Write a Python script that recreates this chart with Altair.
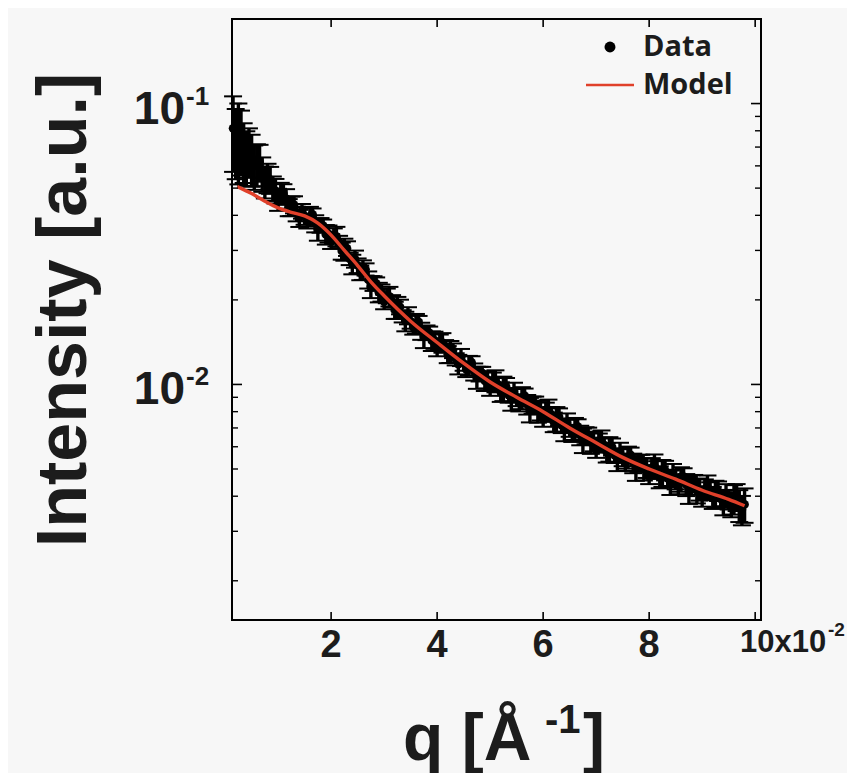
import altair as alt
import pandas as pd

# ---- data ----
q_data = [0.15, 0.20, 0.25, 0.30, 0.35, 0.40, 0.45, 0.50, 0.55, 0.60,
          0.65, 0.70, 0.75, 0.80, 0.85, 0.90, 0.95, 1.00, 1.05, 1.10,
          1.15, 1.20, 1.25, 1.30, 1.35, 1.40, 1.45, 1.50, 1.55, 1.60,
          1.65, 1.70, 1.75, 1.80, 1.85, 1.90, 1.95, 2.00, 2.05, 2.10,
          2.15, 2.20, 2.25, 2.30, 2.35, 2.40, 2.45, 2.50, 2.55, 2.60,
          2.65, 2.70, 2.75, 2.80, 2.85, 2.90, 2.95, 3.00, 3.05, 3.10,
          3.15, 3.20, 3.25, 3.30, 3.35, 3.40, 3.45, 3.50, 3.55, 3.60,
          3.65, 3.70, 3.75, 3.80, 3.85, 3.90, 3.95, 4.00, 4.05, 4.10,
          4.15, 4.20, 4.25, 4.30, 4.35, 4.40, 4.45, 4.50, 4.55, 4.60,
          4.65, 4.70, 4.75, 4.80, 4.85, 4.90, 4.95, 5.00, 5.05, 5.10,
          5.15, 5.20, 5.25, 5.30, 5.35, 5.40, 5.45, 5.50, 5.55, 5.60,
          5.65, 5.70, 5.75, 5.80, 5.85, 5.90, 5.95, 6.00, 6.05, 6.10,
          6.15, 6.20, 6.25, 6.30, 6.35, 6.40, 6.45, 6.50, 6.55, 6.60,
          6.65, 6.70, 6.75, 6.80, 6.85, 6.90, 6.95, 7.00, 7.05, 7.10,
          7.15, 7.20, 7.25, 7.30, 7.35, 7.40, 7.45, 7.50, 7.55, 7.60,
          7.65, 7.70, 7.75, 7.80, 7.85, 7.90, 7.95, 8.00, 8.05, 8.10,
          8.15, 8.20, 8.25, 8.30, 8.35, 8.40, 8.45, 8.50, 8.55, 8.60,
          8.65, 8.70, 8.75, 8.80, 8.85, 8.90, 8.95, 9.00, 9.05, 9.10,
          9.15, 9.20, 9.25, 9.30, 9.35, 9.40, 9.45, 9.50, 9.55, 9.60,
          9.65, 9.70, 9.75, 9.80]
i_data = [0.0816, 0.0747, 0.0758, 0.0749, 0.0686, 0.0653, 0.0680, 0.0640, 0.0601, 0.0612,
          0.0620, 0.0564, 0.0528, 0.0545, 0.0536, 0.0500, 0.0490, 0.0456, 0.0479, 0.0478,
          0.0459, 0.0427, 0.0432, 0.0437, 0.0405, 0.0391, 0.0414, 0.0398, 0.0382, 0.0397,
          0.0403, 0.0374, 0.0357, 0.0369, 0.0368, 0.0342, 0.0344, 0.0323, 0.0339, 0.0337,
          0.0322, 0.0299, 0.0303, 0.0305, 0.0280, 0.0268, 0.0280, 0.0265, 0.0250, 0.0256,
          0.0257, 0.0236, 0.0223, 0.0229, 0.0229, 0.0213, 0.0212, 0.0197, 0.0207, 0.0206,
          0.0198, 0.0184, 0.0188, 0.0189, 0.0175, 0.0168, 0.0176, 0.0168, 0.0160, 0.0165,
          0.0167, 0.0155, 0.0148, 0.0153, 0.0153, 0.0143, 0.0144, 0.0134, 0.0142, 0.0141,
          0.0137, 0.0128, 0.0131, 0.0132, 0.0123, 0.0118, 0.0125, 0.0119, 0.0113, 0.0117,
          0.0120, 0.0111, 0.0106, 0.0109, 0.0110, 0.0103, 0.0104, 0.00969, 0.0103, 0.0103,
          0.0100, 0.00942, 0.00969, 0.00985, 0.00916, 0.00886, 0.00939, 0.00900, 0.00862, 0.00897,
          0.00912, 0.00849, 0.00814, 0.00846, 0.00854, 0.00803, 0.00809, 0.00760, 0.00805, 0.00810,
          0.00784, 0.00735, 0.00755, 0.00768, 0.00714, 0.00690, 0.00730, 0.00700, 0.00671, 0.00697,
          0.00709, 0.00660, 0.00633, 0.00658, 0.00662, 0.00622, 0.00628, 0.00589, 0.00625, 0.00629,
          0.00610, 0.00573, 0.00590, 0.00600, 0.00559, 0.00540, 0.00574, 0.00550, 0.00529, 0.00551,
          0.00562, 0.00525, 0.00504, 0.00525, 0.00530, 0.00500, 0.00505, 0.00475, 0.00506, 0.00512,
          0.00498, 0.00469, 0.00485, 0.00495, 0.00463, 0.00449, 0.00478, 0.00460, 0.00442, 0.00461,
          0.00470, 0.00440, 0.00422, 0.00440, 0.00445, 0.00419, 0.00424, 0.00399, 0.00425, 0.00431,
          0.00419, 0.00396, 0.00409, 0.00418, 0.00391, 0.00380, 0.00405, 0.00390, 0.00374, 0.00391,
          0.00398, 0.00372, 0.00358, 0.00374]
# relative error of each point (half-length of the error bar / intensity)
rel_err = [0.30, 0.28, 0.32, 0.26,
           0.24, 0.22, 0.20, 0.21, 0.18, 0.17,
           0.15, 0.14, 0.13, 0.12, 0.11, 0.10, 0.10, 0.09,
           0.09, 0.08, 0.08, 0.07, 0.08, 0.07, 0.06, 0.07, 0.06, 0.07,
           0.06, 0.08, 0.05, 0.07, 0.09, 0.06, 0.05, 0.08, 0.07, 0.06,
           0.06, 0.08, 0.05, 0.07, 0.09, 0.06, 0.05, 0.08, 0.07, 0.06,
           0.06, 0.08, 0.05, 0.07, 0.09, 0.06, 0.05, 0.08, 0.07, 0.06,
           0.06, 0.08, 0.05, 0.07, 0.09, 0.06, 0.05, 0.08, 0.07, 0.06,
           0.06, 0.08, 0.05, 0.07, 0.09, 0.06, 0.05, 0.08, 0.07, 0.06,
           0.06, 0.08, 0.05, 0.07, 0.09, 0.06, 0.05, 0.08, 0.07, 0.06,
           0.06, 0.08, 0.05, 0.07, 0.09, 0.06, 0.05, 0.08, 0.07, 0.06,
           0.07, 0.09, 0.06, 0.08, 0.10, 0.07, 0.06, 0.09, 0.08, 0.07,
           0.07, 0.09, 0.06, 0.08, 0.10, 0.07, 0.06, 0.09, 0.08, 0.07,
           0.07, 0.09, 0.06, 0.08, 0.10, 0.07, 0.06, 0.09, 0.08, 0.07,
           0.07, 0.09, 0.06, 0.08, 0.10, 0.07, 0.06, 0.09, 0.08, 0.07,
           0.07, 0.09, 0.06, 0.08, 0.10, 0.07, 0.06, 0.09, 0.08, 0.07,
           0.07, 0.09, 0.06, 0.08, 0.10, 0.07, 0.06, 0.09, 0.08, 0.07,
           0.08, 0.10, 0.07, 0.09, 0.11, 0.08, 0.07, 0.10, 0.09, 0.08,
           0.08, 0.10, 0.07, 0.09, 0.11, 0.08, 0.07, 0.10, 0.09, 0.08,
           0.08, 0.10, 0.07, 0.09, 0.11, 0.08, 0.07, 0.10, 0.09, 0.08,
           0.10, 0.12, 0.11, 0.13, 0.12, 0.14]

q_model = [0.23, 0.5, 0.75, 1.0, 1.25, 1.5, 1.75, 2.0, 2.25, 2.5, 2.75, 3.0, 3.5,
           4.0, 4.5, 5.0, 5.5, 6.0, 6.5, 7.0, 7.5, 8.0, 8.5, 9.0, 9.5, 9.8]
i_model = [0.0506, 0.0478, 0.0449, 0.0425, 0.0410, 0.0398, 0.0375, 0.0340, 0.0300,
           0.0265, 0.0232, 0.0207, 0.0168, 0.0141, 0.0119, 0.0102, 0.0090, 0.0080,
           0.0070, 0.0062, 0.0055, 0.0050, 0.0046, 0.0042, 0.0039, 0.0037]

x_ticks = [2, 4, 6, 8, 10]
x_tick_labels = ["2", "4", "6", "8"]
y_major = [0.01, 0.1]
y_minor = [0.002, 0.003, 0.004, 0.005, 0.006, 0.007, 0.008, 0.009,
           0.02, 0.03, 0.04, 0.05, 0.06, 0.07, 0.08, 0.09, 0.2]

# ---- layout ----
W, H = 529, 601
FONT = "Liberation Sans"
INK = "#1c1c1c"
RED = "#e0402a"
BG = "#f7f7f7"

df = pd.DataFrame({"q": q_data, "I": i_data, "rel": rel_err})
df["lo"] = df["I"] * (1 - df["rel"])
df["hi"] = df["I"] * (1 + df["rel"])
model = pd.DataFrame({"q": q_model, "I": i_model})

xs = alt.Scale(domain=[0.13, 10.11], nice=False, zero=False)
ys = alt.Scale(type="log", domain=[0.00145, 0.2], nice=False)

X = alt.X("q:Q", scale=xs, axis=None)

bars = alt.Chart(df).mark_rule(color="black", strokeWidth=3.4).encode(
    x=X, y=alt.Y("lo:Q", scale=ys, axis=None), y2="hi:Q")
cap_lo = alt.Chart(df).mark_rule(color="black", strokeWidth=2.0, xOffset=-9, x2Offset=9).encode(
    x=X, x2="q:Q", y=alt.Y("lo:Q", scale=ys, axis=None))
cap_hi = alt.Chart(df).mark_rule(color="black", strokeWidth=2.0, xOffset=-9, x2Offset=9).encode(
    x=X, x2="q:Q", y=alt.Y("hi:Q", scale=ys, axis=None))
pts = alt.Chart(df).mark_circle(color="black", size=75, opacity=1).encode(
    x=X, y=alt.Y("I:Q", scale=ys, axis=None))
line = alt.Chart(model).mark_line(color=RED, strokeWidth=3.4, interpolate="monotone").encode(
    x=X, y=alt.Y("I:Q", scale=ys, axis=None))

# inward ticks on all four sides
ymaj = pd.DataFrame({"v": y_major})
ymin = pd.DataFrame({"v": y_minor})
xt = pd.DataFrame({"v": x_ticks})
YV = alt.Y("v:Q", scale=ys, axis=None)
XV = alt.X("v:Q", scale=xs, axis=None)
tick_layers = [
    alt.Chart(ymaj).mark_rule(color="black", strokeWidth=1.6).encode(y=YV, x=alt.value(0), x2=alt.value(10)),
    alt.Chart(ymaj).mark_rule(color="black", strokeWidth=1.6).encode(y=YV, x=alt.value(W - 10), x2=alt.value(W)),
    alt.Chart(ymin).mark_rule(color="black", strokeWidth=1.4).encode(y=YV, x=alt.value(0), x2=alt.value(6)),
    alt.Chart(ymin).mark_rule(color="black", strokeWidth=1.4).encode(y=YV, x=alt.value(W - 6), x2=alt.value(W)),
    alt.Chart(xt).mark_rule(color="black", strokeWidth=1.6).encode(x=XV, y=alt.value(H - 8), y2=alt.value(H)),
    alt.Chart(xt).mark_rule(color="black", strokeWidth=1.6).encode(x=XV, y=alt.value(0), y2=alt.value(8)),
]

# x tick labels through the x scale
xl = pd.DataFrame({"v": x_ticks[:4], "t": x_tick_labels})
x_labels = alt.Chart(xl).mark_text(font=FONT, fontWeight="bold", fontSize=38, color=INK,
                                   baseline="middle", align="center").encode(
    x=XV, y=alt.value(H + 26), text="t:N")

# y tick labels (10 with superscript exponent) through the y scale
yl = pd.DataFrame({"v": y_major, "base": ["10", "10"], "exp": ["-2", "-1"]})
y_base = alt.Chart(yl).mark_text(font=FONT, fontWeight="bold", fontSize=46, color=INK,
                                 baseline="middle", align="right", dy=6).encode(
    y=YV, x=alt.value(-47), text="base:N")
y_exp = alt.Chart(yl).mark_text(font=FONT, fontWeight="bold", fontSize=26, color=INK,
                                baseline="middle", align="left", dy=-7).encode(
    y=YV, x=alt.value(-46), text="exp:N")

def txt(s, x, y, size, align="left", baseline="alphabetic", angle=0, font=FONT):
    return alt.Chart(pd.DataFrame({"t": [s]})).mark_text(
        font=font, fontWeight="bold", fontSize=size, color=INK, align=align,
        baseline=baseline, angle=angle).encode(x=alt.value(x), y=alt.value(y), text="t:N")

# x-axis multiplier
mult = [txt("10x10", 508, 624, 31, baseline="middle"),
        txt("-2", 596, 611, 19, baseline="middle")]

# axis titles
y_title = txt("Intensity [a.u.]", -167, 291, 70, align="center", baseline="middle", angle=270)
x_title = [txt("q [Å", 171, 741, 66),
           txt("-1", 313, 714, 40),
           txt("]", 351, 741, 66)]

# legend
leg = [
    alt.Chart(pd.DataFrame({"a": [0]})).mark_circle(color="black", size=120, opacity=1).encode(
        x=alt.value(378), y=alt.value(28)),
    alt.Chart(pd.DataFrame({"a": [0]})).mark_rule(color=RED, strokeWidth=2.5).encode(
        x=alt.value(354), x2=alt.value(402), y=alt.value(66)),
    txt("Data", 411, 28, 29, baseline="middle", font="Open Sans"),
    txt("Model", 411, 66, 29, baseline="middle", font="Open Sans"),
]

chart = alt.layer(
    bars, cap_lo, cap_hi, pts, line, *tick_layers, x_labels, y_base, y_exp,
    *mult, y_title, *x_title, *leg
).properties(
    width=W, height=H,
    autosize=alt.AutoSizeParams(type="none"),
    padding={"left": 224, "top": 11, "right": 86, "bottom": 153},
).configure(background=BG).configure_view(fill=BG, stroke="black", strokeWidth=2)

chart.save("out.html", embed_options={"renderer": "svg", "actions": False})
